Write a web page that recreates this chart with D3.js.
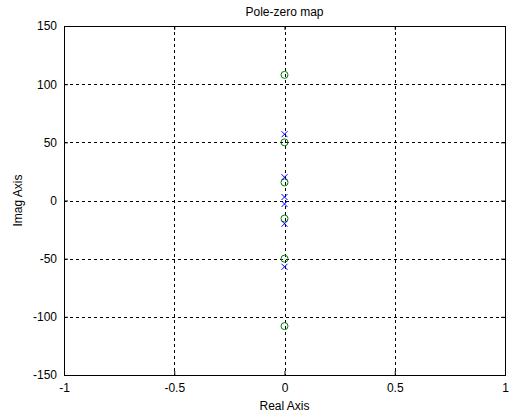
<!DOCTYPE html>
<html>
<head>
<meta charset="utf-8">
<script src="https://cdn.jsdelivr.net/npm/d3@7"></script>
<style>
  body { margin: 0; background: #fff; }
  svg { display: block; font-family: Arial, "Liberation Sans", sans-serif; }
</style>
</head>
<body>
<svg id="chart" width="515" height="418"></svg>
<script>
// pole / zero locations (real, imag)
const zeros = [[0, 108], [0, 50], [0, 15.5], [0, -15.5], [0, -50], [0, -108]];
const poles = [[0, 57], [0, 20], [0, 3], [0, -3], [0, -20], [0, -57]];
const xTicks = [-1, -0.5, 0, 0.5, 1];
const yTicks = [-150, -100, -50, 0, 50, 100, 150];

const svg = d3.select('#chart');
const pLeft = 64, pRight = 505, pTop = 26, pBottom = 375;
const fontSize = 12;

const x = d3.scaleLinear().domain([-1, 1]).range([pLeft, pRight]);
const y = d3.scaleLinear().domain([-150, 150]).range([pBottom, pTop]);

svg.append('rect')
  .attr('width', 515).attr('height', 418).attr('fill', '#fff');

// grid
const grid = svg.append('g')
  .attr('stroke', '#000')
  .attr('stroke-width', 1)
  .attr('stroke-dasharray', '3,3');
grid.selectAll('.gx')
  .data(xTicks.filter(d => d > -1 && d < 1))
  .join('line')
    .attr('x1', d => Math.round(x(d)) + 0.5).attr('x2', d => Math.round(x(d)) + 0.5)
    .attr('y1', pTop).attr('y2', pBottom);
grid.selectAll('.gy')
  .data(yTicks.filter(d => d > -150 && d < 150))
  .join('line')
    .attr('y1', d => Math.round(y(d)) + 0.5).attr('y2', d => Math.round(y(d)) + 0.5)
    .attr('x1', pLeft).attr('x2', pRight);

// axes (ticks point inward, hyphen minus like matlab)
const fmt = d => String(d);
const styleText = g => g.selectAll('text')
  .attr('font-size', fontSize).attr('fill', '#000')
  .attr('font-family', 'Arial, "Liberation Sans", sans-serif');

svg.append('g').attr('transform', `translate(0,${pBottom})`)
  .call(d3.axisBottom(x).tickValues(xTicks).tickSize(-4).tickPadding(8).tickFormat(fmt))
  .call(g => g.select('.domain').remove())
  .call(styleText);
svg.append('g').attr('transform', `translate(0,${pTop})`)
  .call(d3.axisTop(x).tickValues(xTicks).tickSize(-4).tickFormat(''))
  .call(g => g.select('.domain').remove());
svg.append('g').attr('transform', `translate(${pLeft},0)`)
  .call(d3.axisLeft(y).tickValues(yTicks).tickSize(-4).tickPadding(7).tickFormat(fmt))
  .call(g => g.select('.domain').remove())
  .call(styleText);
svg.append('g').attr('transform', `translate(${pRight},0)`)
  .call(d3.axisRight(y).tickValues(yTicks).tickSize(-4).tickFormat(''))
  .call(g => g.select('.domain').remove());

// frame
svg.append('rect')
  .attr('x', pLeft + 0.5).attr('y', pTop + 0.5)
  .attr('width', pRight - pLeft).attr('height', pBottom - pTop)
  .attr('fill', 'none').attr('stroke', '#000');

// zeros
svg.append('g').selectAll('circle')
  .data(zeros)
  .join('circle')
    .attr('cx', d => x(d[0])).attr('cy', d => y(d[1]))
    .attr('r', 3.5)
    .attr('fill', 'none').attr('stroke', '#008000');

// poles
svg.append('g').selectAll('path')
  .data(poles)
  .join('path')
    .attr('d', d => {
      const cx = x(d[0]), cy = y(d[1]), s = 3;
      return `M${cx - s},${cy - s}L${cx + s},${cy + s}M${cx - s},${cy + s}L${cx + s},${cy - s}`;
    })
    .attr('stroke', '#0000ff').attr('fill', 'none');

// labels
svg.append('text').attr('x', (pLeft + pRight) / 2).attr('y', 16)
  .attr('text-anchor', 'middle').attr('font-size', fontSize).text('Pole-zero map');
svg.append('text').attr('x', (pLeft + pRight) / 2).attr('y', 410)
  .attr('text-anchor', 'middle').attr('font-size', fontSize).text('Real Axis');
svg.append('text')
  .attr('transform', `translate(22,${(pTop + pBottom) / 2}) rotate(-90)`)
  .attr('text-anchor', 'middle').attr('font-size', fontSize).text('Imag Axis');
</script>
</body>
</html>
